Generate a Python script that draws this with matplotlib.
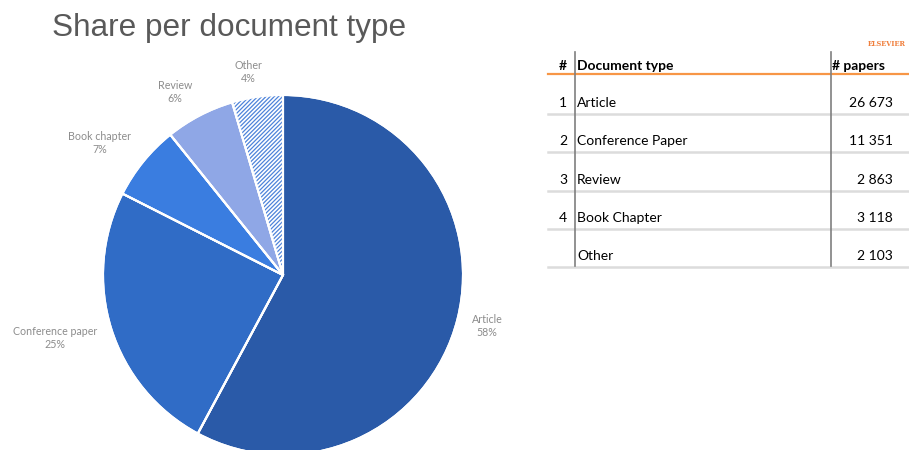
import matplotlib.pyplot as plt

# pie data (clockwise from 12 o'clock)
doc_types = ["Article", "Conference paper", "Book chapter", "Review", "Other"]
papers = [26673, 11351, 3118, 2863, 2103]
pct_labels = ["58%", "25%", "7%", "6%", "4%"]
colors = ["#2A5AA8", "#306CC6", "#3A7DE0", "#8FA7E6", "white"]

# table data
row_ids = ["1", "2", "3", "4", ""]
row_types = ["Article", "Conference Paper", "Review", "Book Chapter", "Other"]
row_papers = ["26 673", "11 351", "2 863", "3 118", "2 103"]

W, H = 909, 450
plt.rcParams["hatch.linewidth"] = 0.9


def px(x, y):
    return x / W, 1 - y / H


fig = plt.figure(figsize=(W / 100, H / 100), dpi=100)

# pie axes: center (283, 275), radius 180 px
ax = fig.add_axes([(283 - 180) / W, (H - 275 - 180) / H, 360 / W, 360 / H])
wedges, _ = ax.pie(papers, colors=colors, startangle=90, counterclock=False,
                   radius=1, wedgeprops=dict(edgecolor="white", linewidth=1.5))
wedges[-1].set_hatch("////////")
wedges[-1].set_edgecolor("#4D83DA")
wedges[-1].set_linewidth(0)
ax.pie(papers, colors=["none"] * 5, startangle=90, counterclock=False, radius=1,
       wedgeprops=dict(edgecolor="white", linewidth=1.5, fill=False))
ax.set_xlim(-1, 1)
ax.set_ylim(-1, 1)
ax.set_aspect("equal")
ax.axis("off")

# data labels
lab_pos = [(487, 326), (55, 338), (100, 143), (175, 92), (248, 72)]
for (x, y), name, p in zip(lab_pos, doc_types, pct_labels):
    fig.text(*px(x, y), name + "\n" + p, ha="center", va="center",
             color="#8c8c8c", fontsize=7.7, family="Lato", linespacing=1.2)

fig.text(*px(52, 28), "Share per document type", ha="left", va="center",
         color="#595959", fontsize=22.7, family="Liberation Sans")

# table
fig.text(*px(563, 66), "#", ha="center", va="center", fontsize=10,
         family="Lato", fontweight="bold")
fig.text(*px(577, 66), "Document type", ha="left", va="center", fontsize=10,
         family="Lato", fontweight="bold")
fig.text(*px(832, 66), "# papers", ha="left", va="center", fontsize=10,
         family="Lato", fontweight="bold")
fig.add_artist(plt.Line2D([548 / W, 1], [1 - 74 / H] * 2, color="#F79646", lw=1.6))

row_y = [103, 141, 180, 218, 256]
for y, rid, rt, rp in zip(row_y, row_ids, row_types, row_papers):
    fig.text(*px(563, y), rid, ha="center", va="center", fontsize=10, family="Lato")
    fig.text(*px(577, y), rt, ha="left", va="center", fontsize=10, family="Lato")
    fig.text(*px(893, y), rp, ha="right", va="center", fontsize=10, family="Lato")
    fig.add_artist(plt.Line2D([548 / W, 1], [1 - (y + 11) / H] * 2,
                              color="#dcdcdc", lw=1.8))

for x in (575, 831):
    fig.add_artist(plt.Line2D([x / W] * 2, [1 - 52 / H, 1 - 266 / H],
                              color="#7f7f7f", lw=1.2))

# publisher mark
fig.text(*px(906, 44), "ELSEVIER", ha="right", va="center", fontsize=4.8,
         color="#F07F3C", family="DejaVu Serif", fontweight="bold")

fig.savefig("out.png", dpi=100, facecolor="white")
